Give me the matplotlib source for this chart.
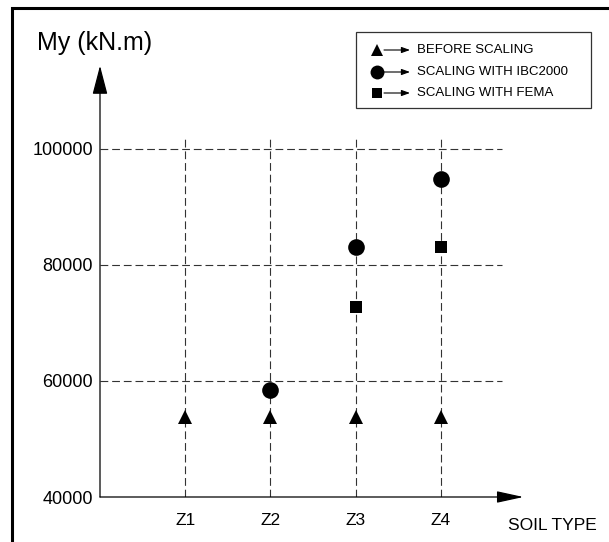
import matplotlib
matplotlib.use("Agg")
import matplotlib.pyplot as plt
from matplotlib.lines import Line2D
from matplotlib.patches import Rectangle

plt.rcParams['font.family'] = ['Liberation Sans', 'DejaVu Sans']

# data
soil_types = ["Z1", "Z2", "Z3", "Z4"]
soil_x = [1, 2, 3, 4]
before_scaling = [53700, 53700, 53700, 53700]
ibc_x = [2, 3, 4]
ibc2000 = [58400, 83000, 94800]
fema_x = [3, 4]
fema = [72800, 83000]
y_ticks = [40000, 60000, 80000, 100000]
y_tick_labels = ["40000", "60000", "80000", "100000"]
legend_labels = ["BEFORE SCALING", "SCALING WITH IBC2000", "SCALING WITH FEMA"]

W, H = 609, 542


def fx(px):
    return px / W


def fy(py):
    return 1 - py / H


fig = plt.figure(figsize=(W / 100, H / 100), dpi=100)
# axes origin sits where the drawn axes cross
ax = fig.add_axes([fx(100), fy(497), (W - 100) / W, 497 / H])
ax.set_xlim(0, 509 / 85.2)
ax.set_ylim(40000, 40000 + 497 / 116.1 * 20000)
for s in ax.spines.values():
    s.set_visible(False)

dash = dict(color='#333333', lw=0.8, dashes=(7, 3.5))
for yv in y_ticks[1:]:
    ax.plot([0, 4.72], [yv, yv], **dash)
for xv in soil_x:
    ax.plot([xv, xv], [40000, 102200], **dash)

# axes with arrow heads
ax.annotate('', xy=(0, 114300), xytext=(0, 40000),
            arrowprops=dict(arrowstyle='-|>,head_length=18,head_width=4.7',
                            mutation_scale=1, lw=0.9, color='black',
                            shrinkA=0, shrinkB=0))
ax.annotate('', xy=(4.97, 40000), xytext=(0, 40000),
            arrowprops=dict(arrowstyle='-|>,head_length=16.5,head_width=3.6',
                            mutation_scale=1, lw=0.9, color='black',
                            shrinkA=0, shrinkB=0))

ax.plot(soil_x, before_scaling, '^', ms=10, color='black', mew=0, clip_on=False)
ax.plot(ibc_x, ibc2000, 'o', ms=12, color='black', mew=0, clip_on=False)
ax.plot(fema_x, fema, 's', ms=9, color='black', mew=0, clip_on=False)

ax.set_xticks(soil_x, soil_types)
ax.set_yticks(y_ticks, y_tick_labels)
ax.tick_params(axis='both', length=0, colors='black')
ax.tick_params(axis='x', labelsize=12.5, pad=11.5)
ax.tick_params(axis='y', labelsize=13, pad=5)

fig.text(fx(95), fy(43), "My (kN.m)", fontsize=18, ha='center', va='center')
fig.text(fx(552), fy(525), "SOIL TYPE", fontsize=12.5, ha='center', va='center')

# legend drawn by hand: marker, arrow, text
fig.add_artist(Rectangle((fx(356), fy(108)), fx(591) - fx(356), fy(32) - fy(108),
                         transform=fig.transFigure, fill=False,
                         edgecolor='#333333', lw=0.9))
leg_marks = [('^', 8.5), ('o', 10), ('s', 7.5)]
leg_rows = [50, 72, 93]
for (mk, ms), row, lab in zip(leg_marks, leg_rows, legend_labels):
    fig.add_artist(Line2D([fx(377)], [fy(row)], marker=mk, ms=ms, color='black',
                          mew=0, transform=fig.transFigure))
    ax.annotate('', xy=(fx(410), fy(row)), xytext=(fx(384), fy(row)),
                xycoords='figure fraction', textcoords='figure fraction',
                arrowprops=dict(arrowstyle='-|>,head_length=5,head_width=1.8',
                                mutation_scale=1, lw=0.8, color='black',
                                shrinkA=0, shrinkB=0))
    fig.text(fx(417), fy(row), lab, fontsize=9.5, ha='left', va='center')

# outer frame (only left and top edges are inside the picture)
fig.add_artist(Line2D([fx(11.5), fx(11.5), fx(W)], [0, fy(7.5), fy(7.5)],
                      color='black', lw=2.2, transform=fig.transFigure,
                      solid_joinstyle='miter'))

fig.savefig("out.png", dpi=100)
